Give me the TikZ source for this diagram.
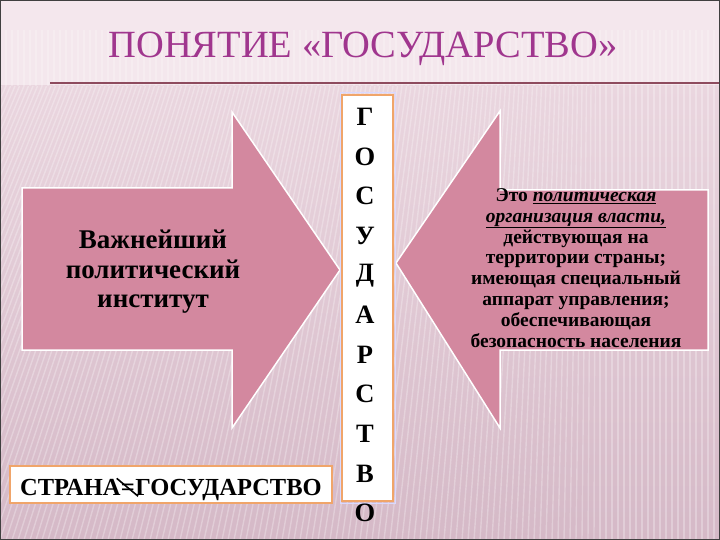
\documentclass[tikz,border=0pt]{standalone}
\usepackage{fontspec}
\setmainfont{Liberation Serif}
\begin{document}
\begin{tikzpicture}[x=1pt,y=-1pt,
  arrowshape/.style={fill=arrowpink,draw=white,line width=1.5pt,line join=miter},
  letterbox/.style={fill=white,draw=boxorange,line width=1.6pt},
  letter/.style={font=\fontsize{26.5}{26}\selectfont\bfseries,text=black,inner sep=0pt},
  bodytext/.style={font=\fontsize{27}{29.5}\selectfont\bfseries,align=center,text=black,inner sep=0pt},
  deftext/.style={font=\fontsize{19.5}{20.9}\selectfont\bfseries,align=center,text=black,inner sep=0pt},
  eqtext/.style={font=\fontsize{24.5}{24}\selectfont\bfseries,text=black,inner sep=0pt,anchor=base}
]
\definecolor{arrowpink}{HTML}{D3889F}
\definecolor{boxorange}{HTML}{F0A56A}
\definecolor{titlepurple}{HTML}{A0368E}
\definecolor{bgtop}{HTML}{F4E7ED}
\definecolor{bgmid}{HTML}{EAD6DF}
\definecolor{bgbot}{HTML}{D5B9C7}
\definecolor{rulecol}{HTML}{8E4B5E}
\useasboundingbox (0,0) rectangle (720,540);
% background
\fill[bgtop] (0,0) rectangle (720,86);
\shade[top color=bgmid,bottom color=bgbot] (0,86) rectangle (720,540);
\begin{scope}
\clip (0,86) rectangle (720,540);
\foreach \i in {-40,...,125}{
  \pgfmathsetmacro{\xx}{\i*6}
  \pgfmathsetmacro{\dd}{max(0,150-\xx*0.25)}
  \draw[white,opacity=0.28,line width=1.4pt] (\xx,540) -- (\xx+\dd,86);
}
\end{scope}
\begin{scope}
\clip (0,0) rectangle (720,86);
\foreach \i in {0,...,120}{
  \pgfmathsetmacro{\xx}{\i*6}
  \draw[white,opacity=0.22,line width=1.2pt] (\xx,86) -- (\xx,30);
}
\end{scope}
\draw[rulecol,line width=1.2pt] (50,83) -- (720,83);
% frame
\draw[black!75,line width=2pt] (0,0) rectangle (720,540);
% title
\node[font=\fontsize{38.5}{38}\selectfont,text=titlepurple,inner sep=0pt] (title) at (363,49) {ПОНЯТИЕ «ГОСУДАРСТВО»};
% left arrow
\coordinate (la1) at (22,188);
\coordinate (la2) at (232,188);
\coordinate (la3) at (232,112);
\coordinate (latip) at (340,270);
\coordinate (la5) at (232,428);
\coordinate (la6) at (232,350);
\coordinate (la7) at (22,350);
\draw[arrowshape] (la1) -- (la2) -- (la3) -- (latip) -- (la5) -- (la6) -- (la7) -- cycle;
% right arrow
\coordinate (ra1) at (708,190);
\coordinate (ra2) at (500,190);
\coordinate (ra3) at (500,111);
\coordinate (ratip) at (396,263);
\coordinate (ra5) at (500,428);
\coordinate (ra6) at (500,350);
\coordinate (ra7) at (708,350);
\draw[arrowshape] (ra1) -- (ra2) -- (ra3) -- (ratip) -- (ra5) -- (ra6) -- (ra7) -- cycle;
% texts in arrows
\node[bodytext] (lefttext) at (153,272) {Важнейший\\политический\\институт};
\node[deftext] (righttext) at (576,268) {Это \underline{\itshape политическая}\\\underline{\itshape организация власти,}\\действующая на\\территории страны;\\имеющая специальный\\аппарат управления;\\обеспечивающая\\безопасность населения};
% vertical box
\draw[blue!15,line width=1pt] (340,93) rectangle (395,503);
\draw[letterbox] (342,95) rectangle (393,501);
\foreach \ch [count=\k from 0] in {Г,О,С,У,Д,А,Р,С,Т,В,О}{
  \node[letter] (l\k) at (365,{117+\k*39.6}) {\ch};
}
% bottom box
\draw[letterbox] (10,466) rectangle (332,503);
\node[eqtext] (s1) at (20,495) [anchor=base west] {СТРАНА};
\node[eqtext] (eq) at (s1.base east) [anchor=base west] {=};
\node[eqtext] (s2) at (eq.base east) [anchor=base west] {ГОСУДАРСТВО};
\draw[black,line width=1.6pt] ([xshift=-4pt,yshift=5pt]eq.north west) -- ([xshift=3pt,yshift=-1pt]eq.south east);
\end{tikzpicture}
\end{document}
